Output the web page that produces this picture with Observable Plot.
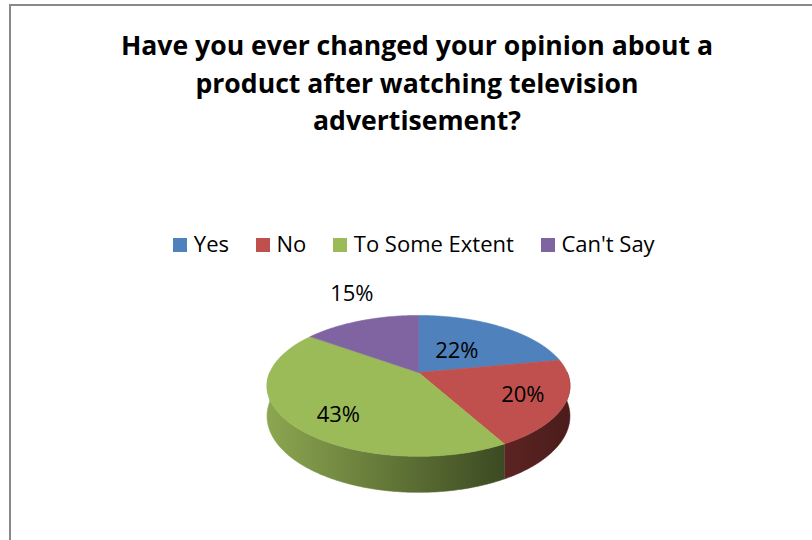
<!DOCTYPE html>
<html>
<head>
<meta charset="utf-8">
<script src="https://cdn.jsdelivr.net/npm/d3@7"></script>
<script src="https://cdn.jsdelivr.net/npm/@observablehq/plot@0.6"></script>
<style>
  html, body { margin: 0; padding: 0; background: #fff; }
  #wrap { position: relative; width: 812px; height: 540px; overflow: hidden; background: #fff; font-family: "Open Sans", sans-serif; }
  #frame { position: absolute; left: 9px; top: 4px; width: 900px; height: 700px; border: 2px solid #898989; box-sizing: border-box; }
  #title { position: absolute; left: 17px; top: 27px; width: 800px; text-align: center; font-weight: 700; font-size: 26.6px; line-height: 37.5px; color: #000; }
  #legend { position: absolute; left: 0; top: 228px; width: 828px; display: flex; justify-content: center; font-size: 22px; line-height: 30px; color: #000; }
  .item { display: inline-flex; align-items: center; margin: 0 13.5px; }
  .sw { width: 14px; height: 14px; margin-right: 6.5px; margin-top: 3px; }
  #chart { position: absolute; left: 0; top: 270px; }
</style>
</head>
<body>
<div id="wrap">
  <div id="frame"></div>
  <div id="title">Have you ever changed your opinion about a<br>product after watching television<br>advertisement?</div>
  <div id="legend"></div>
  <div id="chart"></div>
</div>
<script>
// ---- data ----
const categories = ["Yes", "No", "To Some Extent", "Can't Say"];
const shares = [22, 20, 43, 15];
const colors = ["#4F81BD", "#C0504D", "#9BBB59", "#8064A2"];
const wallShades = [["#3d6391", "#2c4a6e"], ["#5c2422", "#4a1c1b"], ["#8ca650", "#3c4a22"], ["#5e4a78", "#463759"]];
// label placement (radius relative to pie radius, angular nudge in degrees)
const labelRadius = [0.43, 0.73, 0.74, 1.58];
const labelAngleShift = [0, 0, -8, 5.7];

// ---- legend ----
const legend = document.getElementById("legend");
categories.forEach((c, i) => {
  const it = document.createElement("span");
  it.className = "item";
  const sw = document.createElement("span");
  sw.className = "sw";
  sw.style.background = colors[i];
  const tx = document.createElement("span");
  tx.textContent = c;
  it.appendChild(sw); it.appendChild(tx);
  legend.appendChild(it);
});

// ---- 3D pie geometry ----
const P = 0.19;   // perspective factor
const H = 0.43;   // extrusion depth (in y units)
const total = d3.sum(shares);
function proj(theta, r) {
  const u = r * Math.sin(theta), v = r * Math.cos(theta);
  const k = 1 + P * v;
  return [u / k, v / k];
}
const angles = [];
let acc = 0;
shares.forEach((s, i) => {
  const a0 = acc / total * 2 * Math.PI;
  acc += s;
  const a1 = acc / total * 2 * Math.PI;
  angles.push({i, a0, a1});
});

const step = Math.PI / 360;
function arc(a, b) {
  const pts = [];
  const n = Math.max(2, Math.ceil(Math.abs(b - a) / step));
  for (let j = 0; j <= n; j++) pts.push(a + (b - a) * j / n);
  return pts;
}

const tops = angles.map(({i, a0, a1}) => {
  const pts = [{x: 0, y: 0}];
  for (const t of arc(a0, a1)) { const [x, y] = proj(t, 1); pts.push({x, y}); }
  pts.push({x: 0, y: 0});
  return {i, pts};
});

const walls = [];
angles.forEach(({i, a0, a1}) => {
  const lo = Math.max(a0, Math.PI / 2), hi = Math.min(a1, 3 * Math.PI / 2);
  if (lo >= hi) return;
  const pts = [];
  for (const t of arc(lo, hi)) { const [x, y] = proj(t, 1); pts.push({x, y}); }
  for (const t of arc(hi, lo)) { const [x, y] = proj(t, 1); pts.push({x, y: y - H / (1 + P * Math.cos(t))}); }
  walls.push({i, pts});
});

const labels = angles.map(({i, a0, a1}) => {
  const [x, y] = proj((a0 + a1) / 2 + labelAngleShift[i] * Math.PI / 180, labelRadius[i]);
  return {x, y, text: `${shares[i]}%`};
});

const svg = Plot.plot({
  width: 812,
  height: 270,
  margin: 0,
  style: {background: "transparent", overflow: "visible"},
  x: {domain: [-1, 1], range: [269.3, 566.7], axis: null},
  y: {domain: [-1, 1], range: [169.9, 34.1], axis: null},
  marks: [
    ...walls.map(w => Plot.line(w.pts, {x: "x", y: "y", fill: `url(#wall${w.i})`, stroke: `url(#wall${w.i})`, strokeWidth: 0.6})),
    ...tops.map(t => Plot.line(t.pts, {x: "x", y: "y", fill: colors[t.i], stroke: colors[t.i], strokeWidth: 0.6})),
    Plot.text(labels, {x: "x", y: "y", text: "text", fontSize: 22, fontFamily: "Open Sans", fill: "#000"})
  ]
});

const defs = d3.select(svg).insert("defs", ":first-child");
wallShades.forEach((s, i) => {
  const g = defs.append("linearGradient").attr("id", `wall${i}`).attr("x1", 0).attr("x2", 1).attr("y1", 0).attr("y2", 0);
  g.append("stop").attr("offset", 0).attr("stop-color", s[0]);
  g.append("stop").attr("offset", 1).attr("stop-color", s[1]);
});

document.getElementById("chart").appendChild(svg);
</script>
</body>
</html>
